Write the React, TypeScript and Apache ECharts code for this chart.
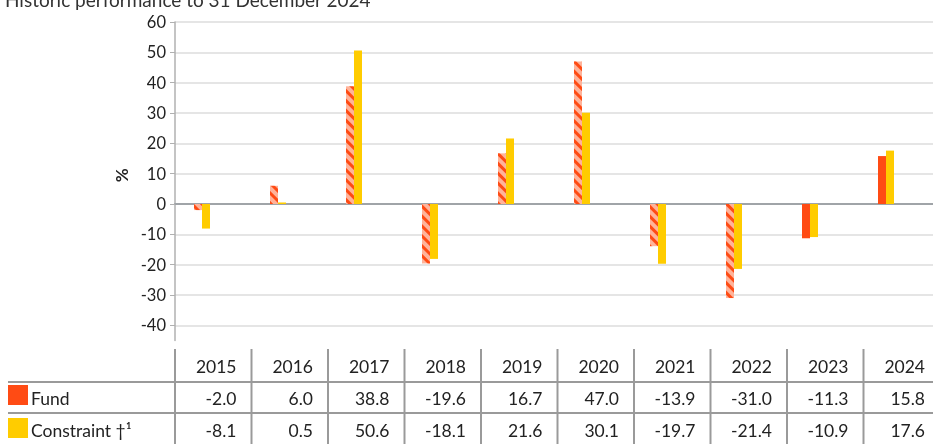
import React, { useEffect, useRef } from "react";
import * as echarts from "echarts";

const years = ["2015", "2016", "2017", "2018", "2019", "2020", "2021", "2022", "2023", "2024"];
const fundValues = [-2.0, 6.0, 38.8, -19.6, 16.7, 47.0, -13.9, -31.0, -11.3, 15.8];
const constraintValues = [-8.1, 0.5, 50.6, -18.1, 21.6, 30.1, -19.7, -21.4, -10.9, 17.6];
const fundHatched = [true, true, true, true, true, true, true, true, false, false];
const seriesNames = ["Fund", "Constraint †¹"];
const titleText = "Historic performance to 31 December 2024";
const yTickValues = [-40, -30, -20, -10, 0, 10, 20, 30, 40, 50, 60];
const yMin = -45;
const yMax = 60;

const FONT = "Lato, 'Open Sans', sans-serif";
const RED = "#FF4B14";
const SALMON = "#FFB39A";
const YELLOW = "#FFCC00";
const LINE = "#9a9a9a";

export default function App() {
  const ref = useRef<HTMLDivElement>(null);
  useEffect(() => {
    if (!ref.current) return;
    const chart = echarts.init(ref.current, null, { renderer: "svg" });

    const colLeft = 175;
    const colW = 76.5;
    const plotTop = 22;
    const plotH = 318.5;
    const barGridLeft = 164;
    const barGridW = 760;

    const hatch = {
      symbol: "rect",
      symbolSize: 1,
      symbolKeepAspect: false,
      color: RED,
      dashArrayX: [1, 0],
      dashArrayY: [3, 4],
      rotation: Math.PI / 4,
    };

    const graphics: any[] = [];
    for (let i = 0; i <= years.length; i++) {
      graphics.push({
        type: "line",
        shape: { x1: colLeft + i * colW, y1: 349, x2: colLeft + i * colW, y2: 444 },
        style: { stroke: LINE, lineWidth: 2 },
      });
    }
    [382, 413].forEach((y) =>
      graphics.push({
        type: "line",
        shape: { x1: 8, y1: y, x2: 945, y2: y },
        style: { stroke: LINE, lineWidth: 2 },
      })
    );
    const rowY = [366, 398, 430];
    const tFont = `17.5px ${FONT}`;
    years.forEach((yr, i) => {
      const xr = colLeft + (i + 1) * colW - 15;
      graphics.push({
        type: "text",
        style: { text: yr, x: xr, y: rowY[0], align: "right", verticalAlign: "middle", font: tFont, fill: "#222" },
      });
      graphics.push({
        type: "text",
        style: { text: fundValues[i].toFixed(1), x: xr, y: rowY[1], align: "right", verticalAlign: "middle", font: tFont, fill: "#222" },
      });
      graphics.push({
        type: "text",
        style: { text: constraintValues[i].toFixed(1), x: xr, y: rowY[2], align: "right", verticalAlign: "middle", font: tFont, fill: "#222" },
      });
    });
    [RED, YELLOW].forEach((c, k) => {
      graphics.push({ type: "rect", shape: { x: 8, y: 385 + k * 33, width: 20, height: 20 }, style: { fill: c } });
      graphics.push({
        type: "text",
        style: { text: seriesNames[k], x: 31, y: rowY[k + 1], align: "left", verticalAlign: "middle", font: tFont, fill: "#222" },
      });
    });

    chart.setOption({
      animation: false,
      title: {
        text: titleText,
        left: 0,
        top: -15,
        textStyle: { fontFamily: FONT, fontSize: 19, fontWeight: "normal", color: "#333" },
      },
      grid: [
        { left: colLeft, top: plotTop, width: colW * years.length, height: plotH },
        { left: barGridLeft, top: plotTop, width: barGridW, height: plotH },
      ],
      xAxis: [
        {
          type: "category",
          gridIndex: 0,
          data: years,
          axisLine: { show: true, onZero: true, lineStyle: { color: "#a0a4a8", width: 2 } },
          axisTick: { show: false },
          axisLabel: { show: false },
          splitLine: { show: false },
        },
        {
          type: "category",
          gridIndex: 1,
          data: years,
          show: false,
        },
      ],
      yAxis: [
        {
          type: "value",
          gridIndex: 0,
          min: yMin,
          max: yMax,
          name: "%",
          nameLocation: "middle",
          nameRotate: 90,
          nameGap: 38,
          nameTextStyle: { fontFamily: FONT, fontSize: 17, color: "#222", fontWeight: "bold", padding: [0, 0, 0, 12] },
          axisLine: { show: true, lineStyle: { color: "#b0b0b0", width: 1.5 } },
          axisTick: { show: true, length: 5, customValues: yTickValues, lineStyle: { color: "#b0b0b0" } },
          axisLabel: {
            customValues: yTickValues,
            fontFamily: FONT,
            fontSize: 16.5,
            color: "#222",
            margin: 9,
          },
          splitLine: { show: true, lineStyle: { color: "#dcdcdc", width: 1.5 } },
        },
        {
          type: "value",
          gridIndex: 1,
          min: yMin,
          max: yMax,
          show: false,
          splitLine: { show: false },
        },
      ],
      graphic: graphics,
      series: [
        {
          name: seriesNames[0],
          type: "bar",
          xAxisIndex: 1,
          yAxisIndex: 1,
          barWidth: 8,
          barGap: "0%",
          data: fundValues.map((v, i) => ({
            value: v,
            itemStyle: fundHatched[i] ? { color: SALMON, decal: hatch } : { color: RED },
          })),
        },
        {
          name: seriesNames[1],
          type: "bar",
          xAxisIndex: 1,
          yAxisIndex: 1,
          barWidth: 8,
          barGap: "0%",
          itemStyle: { color: YELLOW },
          data: constraintValues,
        },
      ],
    });
    return () => chart.dispose();
  }, []);
  return <div ref={ref} style={{ position: "fixed", left: 0, top: 0, width: 933, height: 444 }} />;
}
